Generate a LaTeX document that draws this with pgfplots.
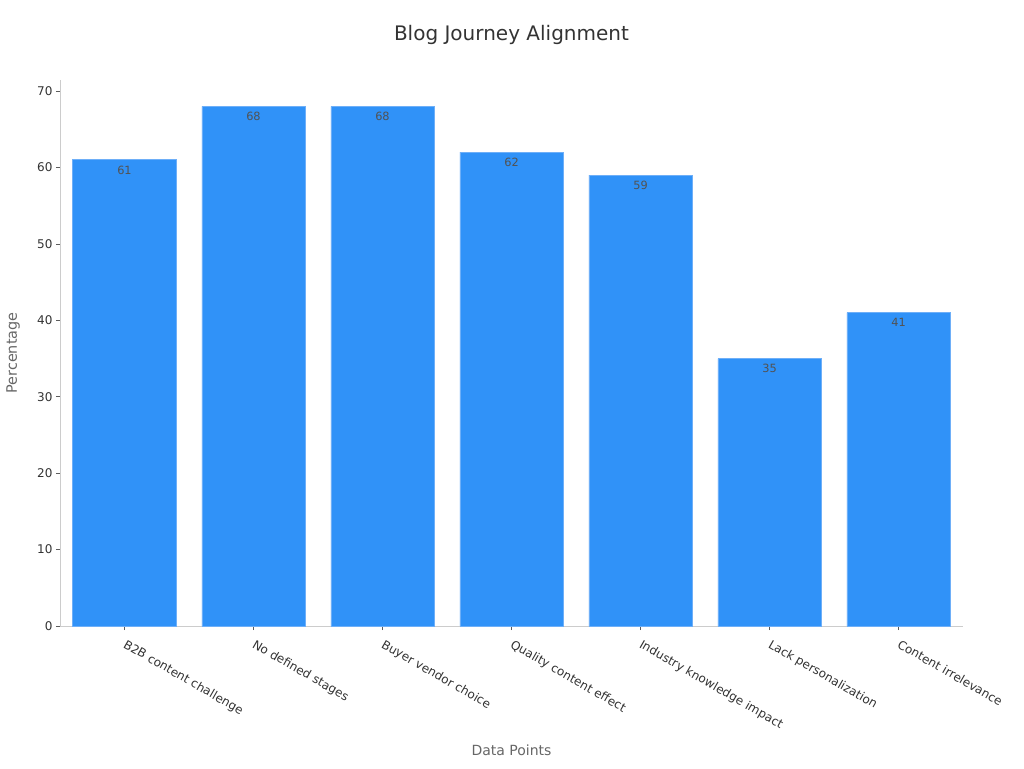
\documentclass[border=0pt]{standalone}
\usepackage{fontspec}
\setmainfont{DejaVu Sans}
\usepackage{pgfplots}
\pgfplotsset{compat=1.18}

\definecolor{barblue}{RGB}{48,146,248}
\definecolor{baredge}{RGB}{110,175,248}
\definecolor{spine}{RGB}{204,204,204}
\definecolor{ticktext}{RGB}{51,51,51}
\definecolor{labeltext}{RGB}{102,102,102}

\begin{document}
\begin{tikzpicture}
\begin{axis}[
    scale only axis,
    width=677.25pt, height=409.5pt,
    xmin=-0.5, xmax=6.5,
    ymin=0, ymax=71.45,
    axis lines*=left,
    axis line style={spine, line width=0.6pt},
    ybar, bar width=0.8,
    xtick=data,
    xticklabels={B2B content challenge, No defined stages, Buyer vendor choice,
      Quality content effect, Industry knowledge impact, Lack personalization,
      Content irrelevance},
    ytick={0,10,...,70},
    tick align=outside,
    major tick length=3pt,
    tick style={ticktext!80, line width=0.6pt},
    ticklabel style={font=\fontsize{9}{11}\selectfont, text=ticktext},
    y tick label style={inner sep=2.5pt},
    x tick label style={yshift=-2pt, rotate=-30, anchor=north west, inner sep=3pt, xshift=1pt},
    /pgf/number format/assume math mode=true,
    nodes near coords,
    nodes near coords style={anchor=north, font=\fontsize{8.5}{10}\selectfont,
      text=ticktext!85, inner sep=4pt},
    clip=false,
]
\addplot[fill=barblue, draw=baredge, line width=0.6pt] coordinates {
    (0,61) (1,68) (2,68) (3,62) (4,59) (5,35) (6,41)
};
\coordinate (sw) at (rel axis cs:0,0);
\end{axis}
\path[use as bounding box] ([shift={(-45pt,-106.5pt)}]sw) rectangle ++(768pt,576pt);
\node[font=\fontsize{15}{18}\selectfont, text=ticktext] at ([shift={(338.6pt,443.5pt)}]sw) {Blog Journey Alignment};
\node[font=\fontsize{10.8}{13}\selectfont, text=labeltext, rotate=90] at ([shift={(-35.25pt,204.75pt)}]sw) {Percentage};
\node[font=\fontsize{10.5}{13}\selectfont, text=labeltext] at ([shift={(338.6pt,-93pt)}]sw) {Data Points};
\end{tikzpicture}
\end{document}
